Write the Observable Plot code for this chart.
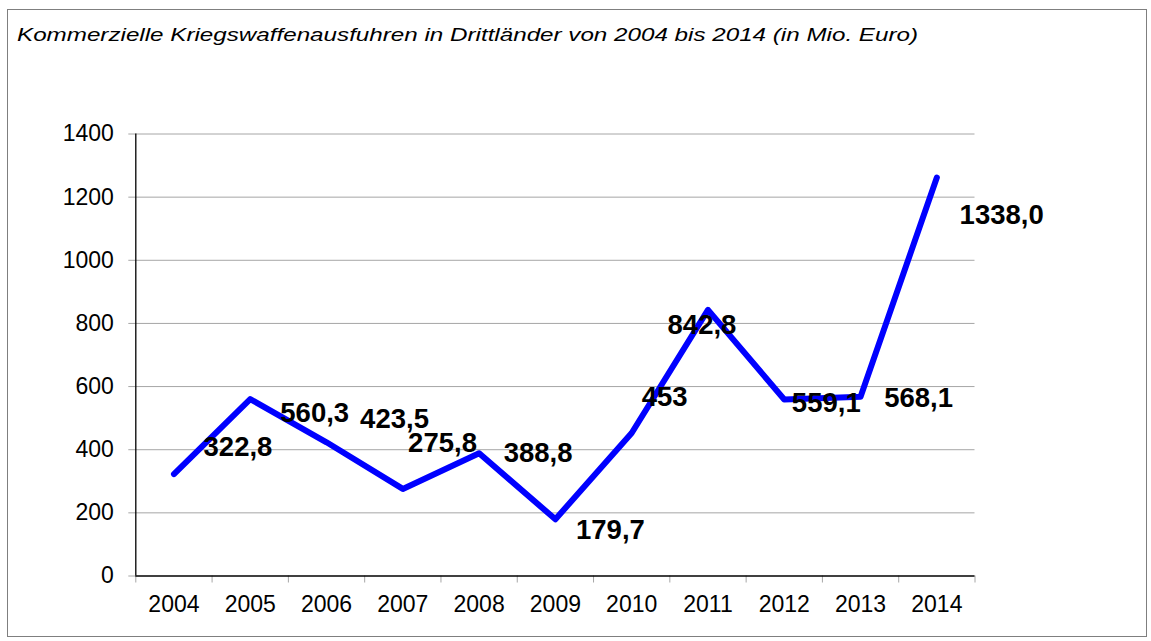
<!DOCTYPE html>
<html>
<head>
<meta charset="utf-8">
<script src="https://cdn.jsdelivr.net/npm/d3@7"></script>
<script src="https://cdn.jsdelivr.net/npm/@observablehq/plot@0.6"></script>
<style>
  html, body { margin: 0; padding: 0; background: #fff; }
  #wrap { position: relative; width: 1151px; height: 641px; overflow: hidden;
          font-family: Arial, "Liberation Sans", sans-serif; background: #fff; }
  #frame { position: absolute; left: 7px; top: 9px; width: 1140px; height: 628px;
           border: 1px solid #7f7f7f; box-sizing: border-box; }
  #title { position: absolute; left: 17px; top: 26px; font-size: 18.5px; line-height: 18.5px;
           font-style: italic; white-space: nowrap; color: #000; transform-origin: 0 0; }
  #chart { position: absolute; left: 0; top: 60px; }
</style>
</head>
<body>
<div id="wrap">
  <div id="frame"></div>
  <div id="title"><span id="titleText">Kommerzielle Kriegswaffenausfuhren in Drittländer von 2004 bis 2014 (in Mio. Euro)</span></div>
  <div id="chart"></div>
</div>
<script>
// ---- data ----
const years = [2004, 2005, 2006, 2007, 2008, 2009, 2010, 2011, 2012, 2013, 2014];
const values = [322.8, 560.3, 423.5, 275.8, 388.8, 179.7, 453, 842.8, 559.1, 568.1, 1262];
const labels = ["322,8", "560,3", "423,5", "275,8", "388,8", "179,7", "453", "842,8", "559,1", "568,1", "1338,0"];
const yTicks = [0, 200, 400, 600, 800, 1000, 1200, 1400];
const titleText = "Kommerzielle Kriegswaffenausfuhren in Drittländer von 2004 bis 2014 (in Mio. Euro)";

// ---- layout (pixel offsets of each data label relative to its point) ----
const labelOffsets = [[64, -17.6], [64.5, 23], [68, -14], [39.7, -36.7], [59, 9], [55, 20],
                      [33, -26.5], [-6, 24], [42, 12.7], [58, 10.6], [64.8, 46]];

const data = years.map((year, i) => ({year, value: values[i], label: labels[i]}));
const boundaries = [...years.map(y => y - 0.5), years[years.length - 1] + 0.5];

const labelMarks = data.map((d, i) => Plot.text([d], {
  x: "year", y: "value", text: "label",
  dx: labelOffsets[i][0], dy: labelOffsets[i][1],
  textAnchor: "middle", lineAnchor: "bottom",
  fontSize: 27.5, fontWeight: "bold", fill: "#000"
}));

const chart = Plot.plot({
  width: 1151,
  height: 581,
  marginTop: 73.5,
  marginBottom: 65.5,
  marginLeft: 135.3,
  marginRight: 176.5,
  style: {fontFamily: "Arial, 'Liberation Sans', sans-serif", background: "transparent", overflow: "visible"},
  x: {type: "linear", domain: [boundaries[0], boundaries[boundaries.length - 1]]},
  y: {domain: [0, 1400]},
  marks: [
    Plot.gridY(yTicks.filter(t => t > 0), {stroke: "#a6a6a6", strokeOpacity: 1, strokeWidth: 1}),
    Plot.axisY({ticks: yTicks, tickSize: 7, tickPadding: 15, stroke: "#a6a6a6", fill: "#000",
                fontSize: 23, tickFormat: d => String(d), label: null}),
    Plot.axisX({ticks: boundaries, tickSize: 7, stroke: "#a6a6a6", tickFormat: () => "", label: null}),
    Plot.axisX({ticks: years, tickSize: 0, tickPadding: 19.5, fill: "#000", fontSize: 23,
                tickFormat: d => String(d), label: null}),
    Plot.ruleX([boundaries[0]], {stroke: "#000", strokeWidth: 1.3}),
    Plot.ruleY([0], {stroke: "#000", strokeWidth: 1.3}),
    Plot.line(data, {x: "year", y: "value", stroke: "#0000ff", strokeWidth: 6,
                     strokeLinecap: "round", strokeLinejoin: "round"}),
    ...labelMarks
  ]
});
document.getElementById("chart").appendChild(chart);

// stretch the title horizontally to match the reference width
const span = document.getElementById("titleText");
span.textContent = titleText;
const w = span.getBoundingClientRect().width;
const targetWidth = 901;
document.getElementById("title").style.transform = `scaleX(${targetWidth / w})`;
</script>
</body>
</html>
